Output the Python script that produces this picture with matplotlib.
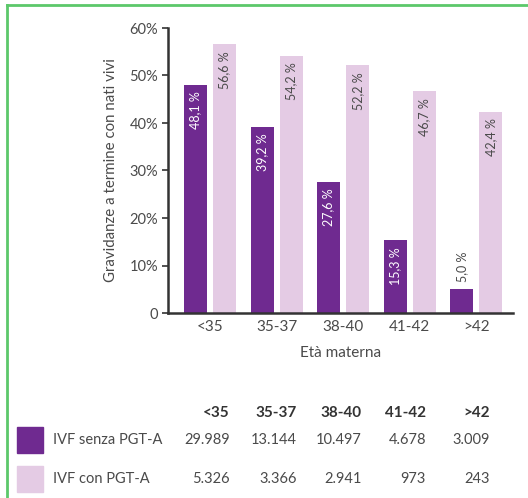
import matplotlib
matplotlib.use("Agg")
import matplotlib.pyplot as plt
from matplotlib.patches import Rectangle
from matplotlib.lines import Line2D
import numpy as np

plt.rcParams['font.family'] = ['Lato', 'DejaVu Sans']

# Data
categories = ["<35", "35-37", "38-40", "41-42", ">42"]
senza_pgta = [48.1, 39.2, 27.6, 15.3, 5.0]
con_pgta = [56.6, 54.2, 52.2, 46.7, 42.4]
series_names = ["IVF senza PGT-A", "IVF con PGT-A"]
n_senza = ["29.989", "13.144", "10.497", "4.678", "3.009"]
n_con = ["5.326", "3.366", "2.941", "973", "243"]
yticks = [0, 10, 20, 30, 40, 50, 60]
ytick_labels = ["0", "10%", "20%", "30%", "40%", "50%", "60%"]

dark = "#6f2a90"
light = "#e4cbe4"
text_col = "#4a4a4a"

W, H = 528, 498
fig = plt.figure(figsize=(W / 100, H / 100), dpi=100)

def px(x, y):
    return x / W, 1 - y / H

# Axes placement
ax_l, ax_r, ax_t, ax_b = 168, 513, 28, 313
ax = fig.add_axes([ax_l / W, 1 - ax_b / H, (ax_r - ax_l) / W, (ax_b - ax_t) / H])

x = np.arange(len(categories))
bw = 0.345
off = 0.218
ax.bar(x - off, senza_pgta, bw, color=dark)
ax.bar(x + off, con_pgta, bw, color=light)

def fmt(v):
    return f"{v:.1f} %".replace(".", ",")

lab_fs = 9
for xi, v in zip(x, senza_pgta):
    if v > 10:
        ax.annotate(fmt(v), (xi - off, v), xytext=(0, -5), textcoords="offset points",
                    rotation=90, ha="center", va="top", color="white", fontsize=lab_fs)
    else:
        ax.annotate(fmt(v), (xi - off, v), xytext=(0, 5), textcoords="offset points",
                    rotation=90, ha="center", va="bottom", color=text_col, fontsize=lab_fs)
for xi, v in zip(x, con_pgta):
    ax.annotate(fmt(v), (xi + off, v), xytext=(0, -5), textcoords="offset points",
                rotation=90, ha="center", va="top", color=text_col, fontsize=lab_fs)

ax.set_xlim(-0.63, 4.55)
ax.set_ylim(0, 60)
ax.set_yticks(yticks)
ax.set_yticklabels(ytick_labels)
ax.set_xticks(x)
ax.set_xticklabels(categories)
ax.tick_params(axis="y", length=4, width=1.2, color="#333333", labelsize=10.5,
               labelcolor=text_col, pad=3)
ax.tick_params(axis="x", length=0, labelsize=11, labelcolor=text_col, pad=5)
for s in ["top", "right"]:
    ax.spines[s].set_visible(False)
for s in ["left", "bottom"]:
    ax.spines[s].set_linewidth(1.8)
    ax.spines[s].set_color("#333333")
ax.set_xlabel("Età materna", fontsize=11, color=text_col, labelpad=9)
ax.set_ylabel("Gravidanze a termine con nati vivi", fontsize=10.8, color=text_col,
              labelpad=8)

# Count table below the chart
tab_fs = 10.5
col_right = [230, 297, 362, 426, 490]
for cx, c in zip(col_right, categories):
    fig.text(*px(cx, 413), c, ha="right", va="center", fontsize=tab_fs + 0.5,
             fontweight="bold", color="#333333")
row_y = [440, 479]
row_colors = [dark, light]
row_vals = [n_senza, n_con]
for ry, rc, name, vals in zip(row_y, row_colors, series_names, row_vals):
    fig.patches.append(Rectangle(px(17, ry + 13), 26 / W, 26 / H, color=rc,
                                 transform=fig.transFigure, figure=fig))
    fig.text(*px(53, ry), name, ha="left", va="center", fontsize=tab_fs, color=text_col)
    for cx, v in zip(col_right, vals):
        fig.text(*px(cx, ry), v, ha="right", va="center", fontsize=tab_fs, color=text_col)

# Frame lines
green = "#5cc86a"
fig.add_artist(Line2D([7 / W, 7 / W], [0, 1 - 5 / H], color=green, lw=2,
                      transform=fig.transFigure))
fig.add_artist(Line2D([7 / W, 1], [1 - 5 / H, 1 - 5 / H], color=green, lw=2,
                      transform=fig.transFigure))

fig.savefig("out.png", dpi=100)
